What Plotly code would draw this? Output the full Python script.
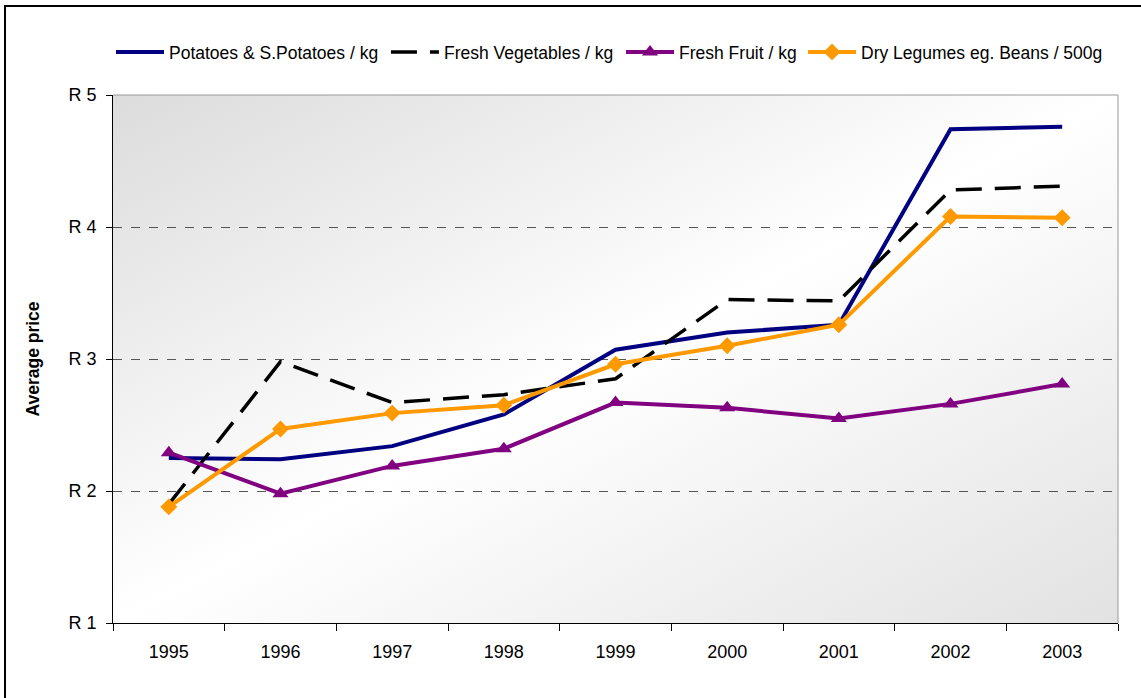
import base64
import plotly.graph_objects as go

years = ["1995", "1996", "1997", "1998", "1999", "2000", "2001", "2002", "2003"]
potatoes = [2.25, 2.24, 2.34, 2.58, 3.07, 3.20, 3.26, 4.74, 4.76]
vegetables = [1.90, 2.98, 2.67, 2.73, 2.85, 3.45, 3.44, 4.28, 4.31]
fruit = [2.29, 1.98, 2.19, 2.32, 2.67, 2.63, 2.55, 2.66, 2.81]
legumes = [1.88, 2.47, 2.59, 2.65, 2.96, 3.10, 3.26, 4.08, 4.07]
y_ticks = [1, 2, 3, 4, 5]
y_labels = ["R 1", "R 2", "R 3", "R 4", "R 5"]

FONT = "Liberation Sans, Arial, sans-serif"

fig = go.Figure()
fig.add_trace(go.Scatter(x=years, y=potatoes, mode="lines", name="Potatoes & S.Potatoes / kg",
                         line=dict(color="#000080", width=4), legend="legend"))
fig.add_trace(go.Scatter(x=years, y=vegetables, mode="lines", name="Fresh Vegetables / kg",
                         line=dict(color="#000000", width=3.5, dash="26px,13px"), legend="legend2"))
fig.add_trace(go.Scatter(x=years, y=fruit, mode="lines+markers", name="Fresh Fruit / kg",
                         line=dict(color="#800080", width=4),
                         marker=dict(symbol="triangle-up", size=14, color="#800080"),
                         legend="legend3"))
fig.add_trace(go.Scatter(x=years, y=legumes, mode="lines+markers", name="Dry Legumes eg. Beans / 500g",
                         line=dict(color="#FF9900", width=4),
                         marker=dict(symbol="diamond", size=13, color="#FF9900"),
                         legend="legend4"))

svg = ('<svg xmlns="http://www.w3.org/2000/svg" width="1000" height="528" viewBox="0 0 1000 528" '
       'preserveAspectRatio="none"><defs><linearGradient id="g" x1="0" y1="0" x2="1" y2="1">'
       '<stop offset="0" stop-color="#dcdcdc"/><stop offset="0.5" stop-color="#ffffff"/>'
       '<stop offset="1" stop-color="#e2e2e2"/></linearGradient></defs>'
       '<rect width="1000" height="528" fill="url(#g)"/></svg>')
src = "data:image/svg+xml;base64," + base64.b64encode(svg.encode()).decode()

LEG_Y = 1.0814


def leg(x):
    return dict(orientation="h", x=x, xanchor="left", y=LEG_Y, yanchor="middle",
                font=dict(family=FONT, size=17.5, color="black"), itemwidth=48,
                bgcolor="rgba(0,0,0,0)")


fig.update_layout(
    width=1141, height=698,
    margin=dict(l=113, r=23, t=95, b=75),
    paper_bgcolor="white", plot_bgcolor="rgba(0,0,0,0)",
    font=dict(family=FONT, size=18, color="black"),
    showlegend=True,
    legend=leg(-0.002),
    legend2=leg(0.2716),
    legend3=leg(0.5055),
    legend4=leg(0.6866),
    images=[dict(source=src, xref="paper", yref="paper", x=0, y=1, sizex=1, sizey=1,
                 sizing="stretch", layer="below", xanchor="left", yanchor="top")],
    xaxis=dict(type="category", range=[-0.5, 8.5], tickson="boundaries", ticks="outside",
               ticklen=7, tickcolor="black", showline=True, linecolor="black", linewidth=1,
               showgrid=False, zeroline=False, tickfont=dict(size=18), ticklabelstandoff=12),
    yaxis=dict(range=[1, 5], tickvals=y_ticks, ticktext=y_labels, ticks="outside", ticklen=6,
               tickcolor="black", showline=True, linecolor="black", linewidth=1,
               showgrid=True, gridcolor="#555555", griddash="dash", gridwidth=1,
               zeroline=False, tickfont=dict(size=18), ticklabelstandoff=6,
               title=dict(text="<b>Average price</b>", font=dict(size=17.5), standoff=24)),
    shapes=[
        dict(type="line", xref="paper", yref="paper", x0=0, x1=1, y0=1, y1=1,
             line=dict(color="#999999", width=1)),
        dict(type="line", xref="paper", yref="paper", x0=1, x1=1, y0=0, y1=1,
             line=dict(color="#999999", width=1)),
        dict(type="rect", xref="paper", yref="paper", x0=-0.10746, x1=1.05, y0=-0.3, y1=1.16856,
             line=dict(color="black", width=2), fillcolor="rgba(0,0,0,0)", layer="below"),
    ],
)

fig.write_html("out.html", config={"displayModeBar": False},
               post_script="document.body.style.margin='0';")
